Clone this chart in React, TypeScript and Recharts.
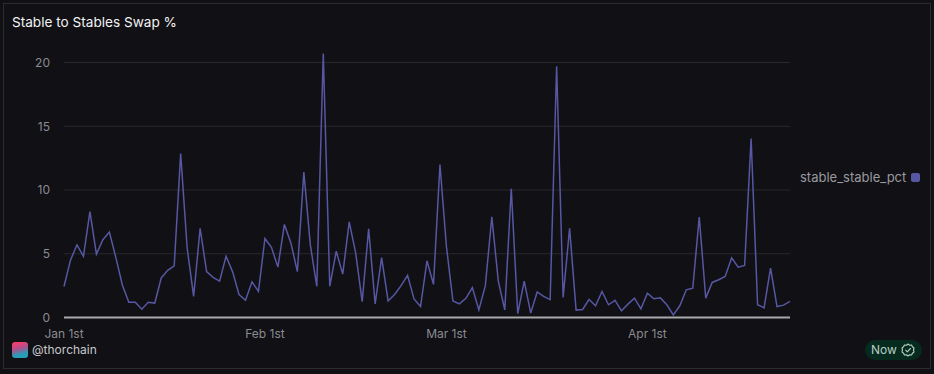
import React from "react";
import { LineChart, Line, XAxis, YAxis, CartesianGrid, Legend } from "recharts";

const seriesName = "stable_stable_pct";
const titleText = "Stable to Stables Swap %";
const values = [
  2.43, 4.5, 5.7, 4.8, 8.3, 4.97, 6.1, 6.7, 4.7, 2.55, 1.2, 1.2, 0.65, 1.2, 1.13, 3.1, 3.7, 4.05, 12.85, 5.45,
  1.65, 7.0, 3.6, 3.15, 2.85, 4.8, 3.6, 1.8, 1.35, 2.8, 2.05, 6.2, 5.5, 3.95, 7.3, 5.85, 3.6, 11.4, 5.7, 2.45,
  20.7, 2.45, 5.2, 3.4, 7.5, 5.05, 1.25, 6.95, 1.07, 4.7, 1.3, 1.8, 2.5, 3.3, 1.45, 0.86, 4.45, 2.6, 12.0, 5.55,
  1.3, 1.07, 1.5, 2.35, 0.6, 2.5, 7.9, 2.85, 0.6, 10.1, 0.3, 2.85, 0.35, 2.0, 1.65, 1.4, 19.7, 1.57, 7.0, 0.58,
  0.63, 1.41, 0.92, 2.04, 1.0, 1.34, 0.52, 1.05, 1.52, 0.68, 1.91, 1.47, 1.54, 1.0, 0.21, 0.92, 2.17, 2.3, 7.88, 1.52,
  2.75, 2.96, 3.22, 4.68, 3.95, 4.08, 14.03, 1.0, 0.76, 3.87, 0.86, 0.97, 1.26,
];
const xTicks = [0, 31, 59, 90];
const xTickLabels = ["Jan 1st", "Feb 1st", "Mar 1st", "Apr 1st"];
const yTicks = [0, 5, 10, 15, 20];

const data = values.map((v, i) => ({ day: i, [seriesName]: v }));

const FONT = "Inter, sans-serif";
const LINE = "#5757a3";

function LegendBox() {
  return (
    <div style={{ display: "flex", alignItems: "center", fontFamily: FONT, fontSize: 13, lineHeight: "18px", color: "#9a9a9f", whiteSpace: "nowrap" }}>
      <span>{seriesName}</span>
      <span style={{ width: 9, height: 9, borderRadius: 2, background: LINE, marginLeft: 5, display: "inline-block", flex: "none" }} />
    </div>
  );
}

export default function App() {
  return (
    <div style={{ position: "absolute", left: 0, top: 0, width: 934, height: 374, background: "#101015", overflow: "hidden" }}>
      <div style={{ position: "absolute", left: 3, top: 3, width: 926, height: 364, border: "1px solid #2b2b30" }} />
      <div style={{ position: "absolute", left: 12, top: 14, fontFamily: FONT, fontSize: 13.6, lineHeight: "17px", color: "#f2f2f4" }}>
        {titleText}
      </div>
      <div style={{ position: "absolute", left: 0, top: 0 }}>
        <LineChart width={934} height={374} data={data} margin={{ top: 37, right: 144, bottom: 0, left: 0 }}>
          <CartesianGrid horizontal vertical={false} stroke="#29292d" strokeWidth={1} syncWithTicks />
          <XAxis
            dataKey="day"
            type="number"
            domain={[0, values.length - 1]}
            ticks={xTicks}
            tickFormatter={(d: number) => xTickLabels[xTicks.indexOf(d)]}
            axisLine={{ stroke: "#a9a9ad", strokeWidth: 2 }}
            tickLine={false}
            tickMargin={6}
            interval={0}
            height={38.5}
            tick={{ fill: "#8b8b90", fontSize: 12, fontFamily: FONT }}
          />
          <YAxis
            type="number"
            domain={[0, 22]}
            ticks={yTicks}
            width={64}
            axisLine={false}
            tickLine={false}
            tickMargin={8}
            tick={{ fill: "#8b8b90", fontSize: 12, fontFamily: FONT }}
          />
          <Line
            type="linear"
            dataKey={seriesName}
            stroke={LINE}
            strokeWidth={1.5}
            dot={false}
            activeDot={false}
            isAnimationActive={false}
          />
          <Legend content={<LegendBox />} wrapperStyle={{ position: "absolute", left: 800, top: 168, width: 125, height: 18, bottom: "auto", right: "auto" }} />
        </LineChart>
      </div>
      <div style={{ position: "absolute", left: 12, top: 342, width: 16, height: 16, borderRadius: 3, background: "linear-gradient(165deg, #ef3f6e 12%, #b04f8f 42%, #2a9cb5 72%, #1f9fb8 100%)" }} />
      <div style={{ position: "absolute", left: 32, top: 342, fontFamily: FONT, fontSize: 12, lineHeight: "16px", color: "#c8c8cc" }}>@thorchain</div>
      <div style={{ position: "absolute", left: 865, top: 340, width: 57, height: 20, borderRadius: 10, background: "#072a1f" }} />
      <div style={{ position: "absolute", left: 871, top: 342, fontFamily: FONT, fontSize: 12, lineHeight: "16px", color: "#b5cfc3" }}>Now</div>
      <svg style={{ position: "absolute", left: 901, top: 343 }} width={14} height={14} viewBox="0 0 14 14" fill="none" stroke="#b5cfc3" strokeWidth={1.1}>
        <path d="M7 1 L8.6 2.2 L10.6 2 L11.4 3.8 L13 5 L12.5 7 L13 9 L11.4 10.2 L10.6 12 L8.6 11.8 L7 13 L5.4 11.8 L3.4 12 L2.6 10.2 L1 9 L1.5 7 L1 5 L2.6 3.8 L3.4 2 L5.4 2.2 Z" strokeLinejoin="round" />
        <path d="M4.7 7.2 L6.3 8.8 L9.4 5.5" strokeLinecap="round" strokeLinejoin="round" />
      </svg>
    </div>
  );
}
